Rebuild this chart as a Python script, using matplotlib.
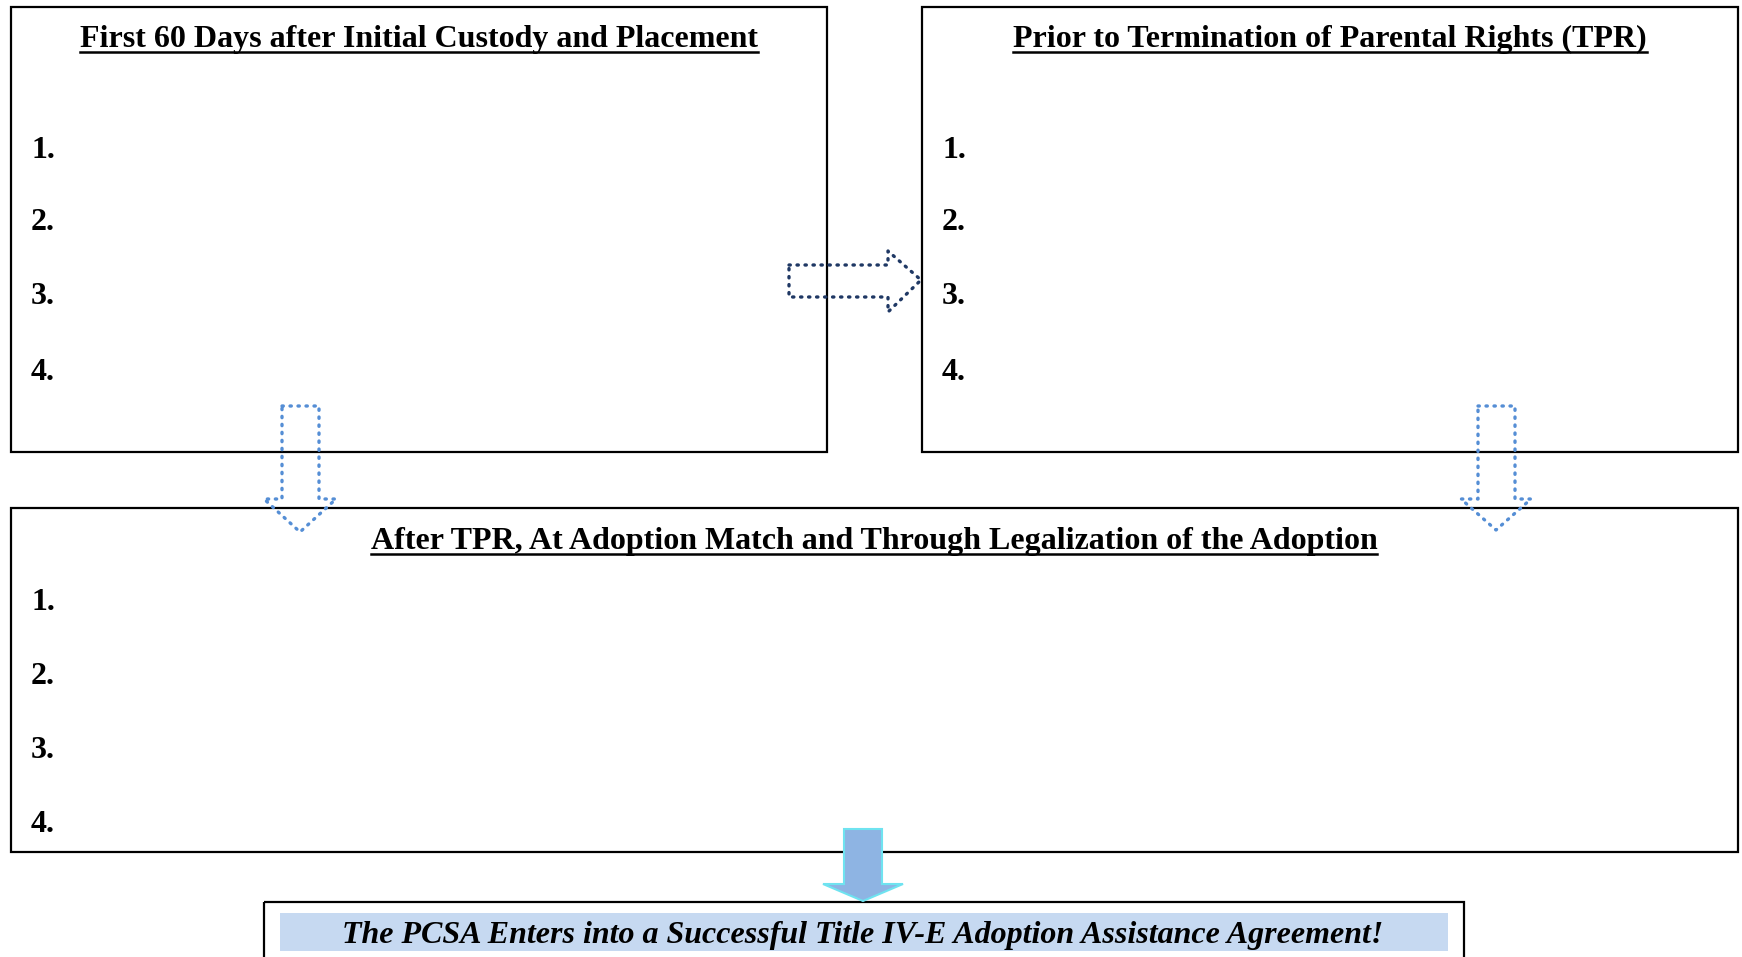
import matplotlib.pyplot as plt
from matplotlib.patches import Rectangle, Polygon

plt.rcParams['font.family'] = ['Liberation Serif', 'DejaVu Serif']

W, H = 1742, 957

# text of the diagram
titles = ["First 60 Days after Initial Custody and Placement",
          "Prior to Termination of Parental Rights (TPR)",
          "After TPR, At Adoption Match and Through Legalization of the Adoption"]
item_labels = ["1.", "2.", "3.", "4."]
final_text = "The PCSA Enters into a Successful Title IV-E Adoption Assistance Agreement!"

# boxes: x0, y0, x1, y1 (pixels, y down)
boxes = [(11, 7, 827, 452), (922, 7, 1738, 452), (11, 508, 1738, 852)]
final_box = (264, 902, 1464, 975)
final_band = (280, 913, 1448, 951)
title_pos = [(419, 39), (1330, 39), (874, 541)]
item_x = [31, 942, 31]
item_y = [[150, 223, 297, 372], [150, 223, 297, 372], [603, 677, 751, 824]]

fig = plt.figure(figsize=(W / 100, H / 100), dpi=100)
ax = fig.add_axes([0, 0, 1, 1])
ax.set_xlim(0, W)
ax.set_ylim(H, 0)
ax.axis('off')


def rect(b, **kw):
    ax.add_patch(Rectangle((b[0], b[1]), b[2] - b[0], b[3] - b[1], **kw))


for b in boxes:
    rect(b, fill=False, edgecolor='black', linewidth=1.6, zorder=2)

rect(final_box, fill=False, edgecolor='black', linewidth=1.6, zorder=2)
rect(final_band, facecolor='#C6D9F1', edgecolor='none', zorder=1)

# titles, underlined
fig.canvas.draw()
renderer = fig.canvas.get_renderer()
for t, (x, y) in zip(titles, title_pos):
    txt = ax.text(x, y, t, fontsize=23, fontweight='bold', ha='center', va='center', zorder=3)
    bb = txt.get_window_extent(renderer).transformed(ax.transData.inverted())
    ax.plot([bb.x0, bb.x1], [y + 13, y + 13], color='black', linewidth=1.8, zorder=3)

for bx, ys in zip(item_x, item_y):
    for lab, y in zip(item_labels, ys):
        ax.text(bx, y, lab, fontsize=23, fontweight='bold', ha='left', va='center', zorder=3)

ax.text(863, 935, final_text, fontsize=23, fontweight='bold', fontstyle='italic',
        ha='center', va='center', zorder=3)

dots = dict(fill=False, linestyle=(0, (0.4, 2.0)), linewidth=2.4, capstyle='round',
            joinstyle='round', zorder=4)

# right arrow between top boxes
ax.add_patch(Polygon([(789, 265), (888, 265), (888, 251), (921, 280), (888, 312),
                      (888, 297), (789, 297)], closed=True, edgecolor='#1F3864', **dots))


def down_arrow(x0, x1, hx0, hx1, top, sh, tip, **kw):
    return Polygon([(x0, top), (x1, top), (x1, sh), (hx1, sh), ((hx0 + hx1) / 2, tip),
                    (hx0, sh), (x0, sh)], closed=True, **kw)


ax.add_patch(down_arrow(282, 319, 264, 336, 406, 499, 532, edgecolor='#558ED5', **dots))
ax.add_patch(down_arrow(1478, 1515, 1461, 1531, 406, 499, 530, edgecolor='#558ED5', **dots))

# solid arrow to final box
ax.add_patch(down_arrow(844, 882, 823, 903, 829, 884, 901, facecolor='#8EB4E3',
                        edgecolor='#6FE3F0', linewidth=1.5, zorder=4))

fig.savefig('out.png', dpi=100)
